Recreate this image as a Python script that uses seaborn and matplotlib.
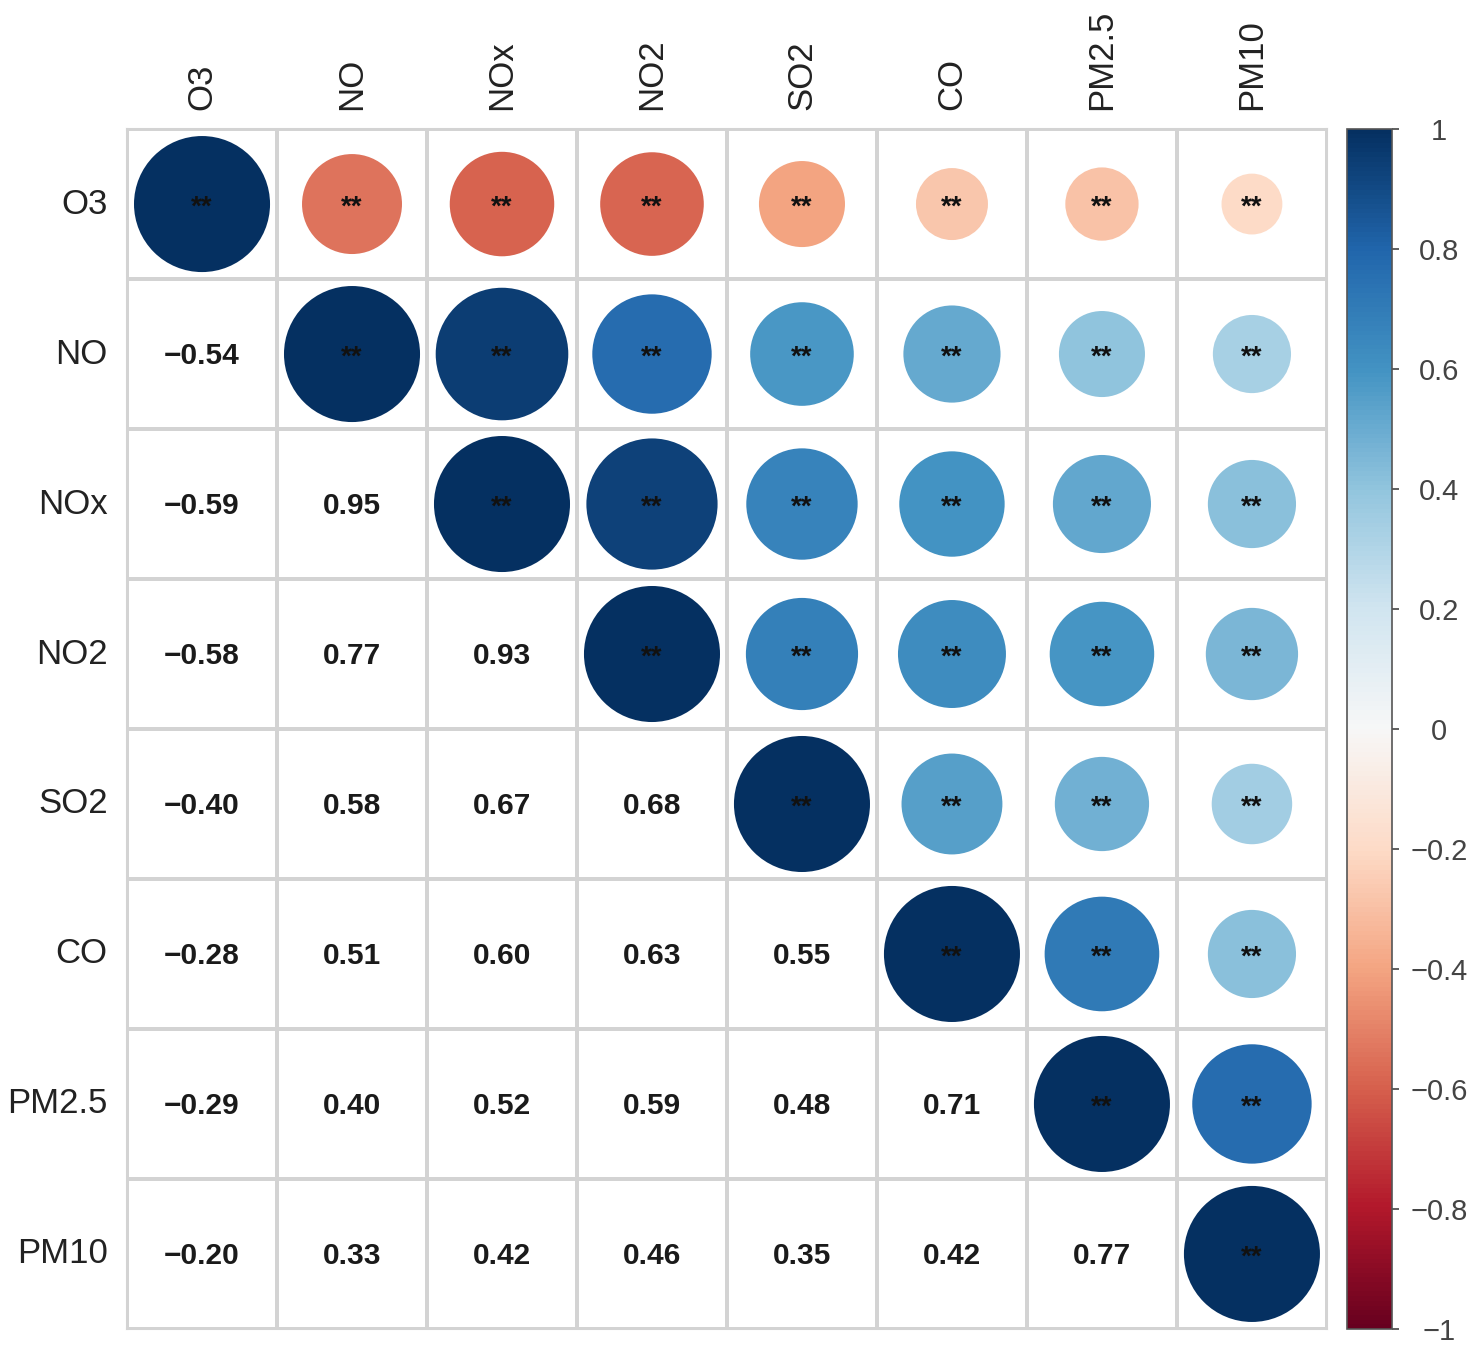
import numpy as np
import pandas as pd
import matplotlib
matplotlib.use('Agg')
import matplotlib.pyplot as plt
import seaborn as sns
from matplotlib.patches import Circle
from matplotlib.colors import Normalize, ListedColormap
from matplotlib.cm import ScalarMappable

pollutants = ['O3', 'NO', 'NOx', 'NO2', 'SO2', 'CO', 'PM2.5', 'PM10']

# lower triangle correlations, row by row
r_no = [-0.54]
r_nox = [-0.59, 0.95]
r_no2 = [-0.58, 0.77, 0.93]
r_so2 = [-0.40, 0.58, 0.67, 0.68]
r_co = [-0.28, 0.51, 0.60, 0.63, 0.55]
r_pm25 = [-0.29, 0.40, 0.52, 0.59, 0.48, 0.71]
r_pm10 = [-0.20, 0.33, 0.42, 0.46, 0.35, 0.42, 0.77]
lower_rows = [[], r_no, r_nox, r_no2, r_so2, r_co, r_pm25, r_pm10]
significance = '**'
cbar_ticks = [-1, -0.8, -0.6, -0.4, -0.2, 0, 0.2, 0.4, 0.6, 0.8, 1]
cbar_labels = ['\u22121', '\u22120.8', '\u22120.6', '\u22120.4', '\u22120.2', '0',
               '0.2', '0.4', '0.6', '0.8', '1']

n = len(pollutants)
corr = np.eye(n)
for i, row in enumerate(lower_rows):
    for j, v in enumerate(row):
        corr[i, j] = v
        corr[j, i] = v
df = pd.DataFrame(corr, index=pollutants, columns=pollutants)

# text for lower triangle only
labels = np.full((n, n), '', dtype=object)
for i in range(n):
    for j in range(i):
        labels[i, j] = f'{corr[i, j]:.2f}'.replace('-', '\u2212')

sns.set_style('white')
plt.rcParams['font.family'] = ['Liberation Sans', 'DejaVu Sans']

fig = plt.figure(figsize=(14.77, 13.5), dpi=100)
ax = fig.add_axes([0.086, 0.0156, 0.8124, 0.8888])
cax = fig.add_axes([0.912, 0.0156, 0.0305, 0.8888])

sns.heatmap(df, ax=ax, cmap=ListedColormap(['white']), cbar=False,
            annot=labels, fmt='', linewidths=1.5, linecolor='#d3d3d3',
            annot_kws={'fontsize': 21.5, 'fontweight': 'bold', 'color': '#1a1a1a'})
for t in ax.texts:
    t.set_y(t.get_position()[1] + 0.015)

cmap = plt.get_cmap('RdBu')
norm = Normalize(vmin=-1, vmax=1)
for i in range(n):
    for j in range(i, n):
        v = corr[i, j]
        d = 0.907 * np.sqrt(abs(v))
        ax.add_patch(Circle((j + 0.5, i + 0.5), d / 2, color=cmap(norm(v)), lw=0, zorder=3))
        # asterisks sit high in the font, nudge them down to the centre
        ax.text(j + 0.5, i + 0.525, significance, ha='center', va='center',
                fontsize=20, fontweight='bold', color='#111111', zorder=4)

for s in ax.spines.values():
    s.set_visible(True)
    s.set_color('#d3d3d3')
    s.set_linewidth(1.5)

ax.xaxis.tick_top()
ax.set_xticklabels(pollutants, rotation=90, fontsize=25, color='#222222')
ax.set_yticklabels(pollutants, rotation=0, fontsize=25, color='#222222')
ax.tick_params(length=0, pad=14)
ax.set_xlabel('')
ax.set_ylabel('')

sm = ScalarMappable(norm=norm, cmap=cmap)
cb = fig.colorbar(sm, cax=cax)
cb.set_ticks(cbar_ticks)
cb.set_ticklabels(cbar_labels)
cb.outline.set_edgecolor('#555555')
cb.outline.set_linewidth(1.2)
cax.tick_params(labelsize=21, length=5, width=1.2, colors='#444444', pad=29)
for t in cax.get_yticklabels():
    t.set_horizontalalignment('center')

fig.savefig('out.png', dpi=100)
